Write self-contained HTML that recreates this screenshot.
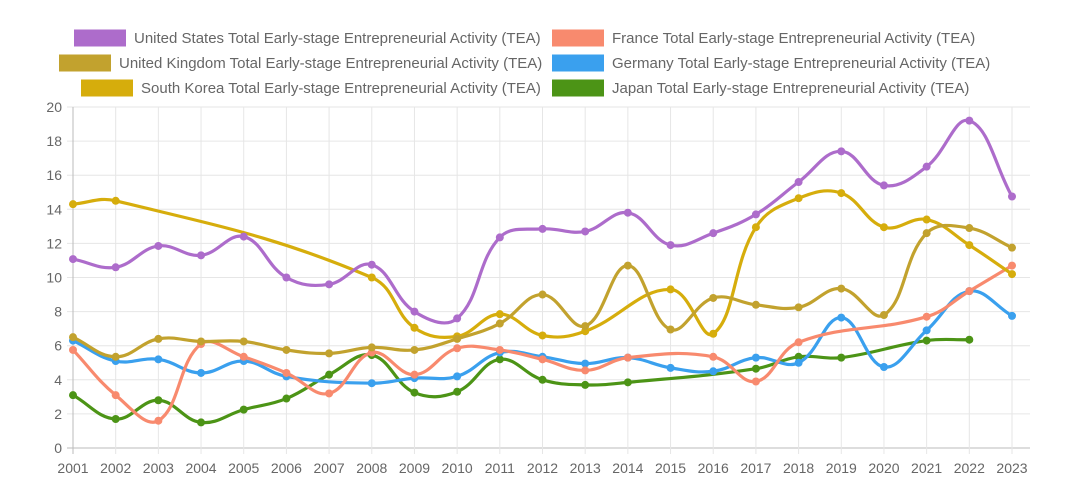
<!DOCTYPE html>
<html><head><meta charset="utf-8"><style>
html,body{margin:0;padding:0;background:#fff;}
svg{display:block;font-family:"Liberation Sans",Arial,sans-serif;}
</style></head><body>
<svg id="chart" width="1076" height="503" viewBox="0 0 1076 503" xmlns="http://www.w3.org/2000/svg">
<g id="grid"></g>
<g id="axes"></g>
<g id="series"></g>
<g id="legend"></g>
</svg>
<script>
const years = [2001,2002,2003,2004,2005,2006,2007,2008,2009,2010,2011,2012,2013,2014,2015,2016,2017,2018,2019,2020,2021,2022,2023];
const yTicks = [0,2,4,6,8,10,12,14,16,18,20];
const usValues = [11.08,10.6,11.85,11.3,12.4,10.0,9.6,10.75,8.0,7.6,12.35,12.85,12.7,13.8,11.9,12.6,13.7,15.6,17.4,15.4,16.5,19.2,14.75];
const franceValues = [5.75,3.1,1.6,6.1,5.35,4.4,3.2,5.6,4.3,5.85,5.75,5.2,4.55,5.3,null,5.35,3.9,6.2,null,null,7.7,9.2,10.7];
const ukValues = [6.5,5.35,6.4,6.25,6.25,5.75,5.55,5.9,5.75,6.4,7.3,9.0,7.15,10.7,6.95,8.8,8.4,8.25,9.35,7.8,12.6,12.9,11.75];
const germanyValues = [6.3,5.1,5.2,4.4,5.1,4.2,null,3.8,4.1,4.2,5.6,5.35,4.95,5.3,4.7,4.5,5.3,5.0,7.65,4.75,6.9,9.2,7.75];
const koreaValues = [14.3,14.5,null,null,null,null,null,10.0,7.05,6.55,7.85,6.6,6.85,null,9.3,6.7,12.95,14.65,14.95,12.95,13.4,11.9,10.2];
const japanValues = [3.1,1.7,2.8,1.5,2.25,2.9,4.3,5.45,3.25,3.3,5.2,4.0,3.7,3.85,null,null,4.65,5.35,5.3,null,6.3,6.35,null];
const seriesLabels = ["United States","France","United Kingdom","Germany","South Korea","Japan"];

const NS="http://www.w3.org/2000/svg";
const X0=73,X1=1012,Y0=448,Y1=107;
const xScale=i=>X0+(X1-X0)*i/(years.length-1);
const yScale=v=>Y0-(Y0-Y1)*v/20;
function mk(tag,attrs,parent){const e=document.createElementNS(NS,tag);for(const k in attrs)e.setAttribute(k,attrs[k]);parent.appendChild(e);return e;}
const grid=document.getElementById('grid'),axes=document.getElementById('axes'),series=document.getElementById('series'),legend=document.getElementById('legend');

yTicks.forEach(t=>{
  const y=yScale(t);
  const l=mk('line',{x1:X0-6,x2:1030,y1:y,y2:y,stroke:t===0?'#bbb':'#e6e6e6','stroke-width':1},grid);
  
  
  const tx=mk('text',{x:X0-11,y:y+5,'text-anchor':'end','font-size':14,fill:'#666'},axes);
  tx.textContent=t;
  
  
});
years.forEach((yr,i)=>{
  const x=xScale(i);
  const l=mk('line',{x1:x,x2:x,y1:Y1,y2:Y0+6,stroke:i===0?'#bbb':'#e6e6e6','stroke-width':1},grid);
  
  
  const tx=mk('text',{x:x,y:473,'text-anchor':'middle','font-size':14,fill:'#666'},axes);
  tx.textContent=yr;
  
  
});

function pathFor(vals){
  const pts=[];vals.forEach((v,i)=>{if(v!==null)pts.push([xScale(i),yScale(v)]);});
  const t=0.4,cps=[];
  for(let i=0;i<pts.length;i++){
    const p=pts[i],pr=pts[i-1]||p,nx=pts[i+1]||p;
    const d01=Math.hypot(p[0]-pr[0],p[1]-pr[1]),d12=Math.hypot(nx[0]-p[0],nx[1]-p[1]);
    let s01=d01/(d01+d12),s12=d12/(d01+d12);if(isNaN(s01))s01=0;if(isNaN(s12))s12=0;
    const fa=t*s01,fb=t*s12;
    cps.push({p:[p[0]-fa*(nx[0]-pr[0]),p[1]-fa*(nx[1]-pr[1])],n:[p[0]+fb*(nx[0]-pr[0]),p[1]+fb*(nx[1]-pr[1])]});
  }
  let d='M'+pts[0][0]+','+pts[0][1];
  for(let i=1;i<pts.length;i++){d+=' C'+cps[i-1].n[0]+','+cps[i-1].n[1]+' '+cps[i].p[0]+','+cps[i].p[1]+' '+pts[i][0]+','+pts[i][1];}
  return {d,pts};
}
const allVals=[usValues,franceValues,ukValues,germanyValues,koreaValues,japanValues];
const colors=['#ad6ccb','#f88a6e','#c2a22e','#3aa0ee','#d6ad0c','#4c9416'];
const keys=['us','france','uk','germany','south-korea','japan'];
[5,3,1,4,2,0].forEach(k=>{
  const g=mk('g',{},series);
  
  
  const {d,pts}=pathFor(allVals[k]);
  const p=mk('path',{d:d,fill:'none',stroke:colors[k],'stroke-width':3.2},g);
  
  
  pts.forEach(pt=>{
    const c=mk('circle',{cx:pt[0],cy:pt[1],r:4,fill:colors[k]},g);
    
    
  });
});
const legendPos=[[74,38],[552,38],[59,63],[552,63],[81,88],[552,88]];
legendPos.forEach((pos,k)=>{
  const g=mk('g',{},legend);
  
  
  mk('rect',{x:pos[0],y:pos[1]-8.5,width:52,height:17,fill:colors[k]},g);
  const tx=mk('text',{x:pos[0]+60,y:pos[1]+5,'font-size':15,fill:'#666'},g);
  tx.textContent=seriesLabels[k]+' Total Early-stage Entrepreneurial Activity (TEA)';
});
</script>
</body></html>
